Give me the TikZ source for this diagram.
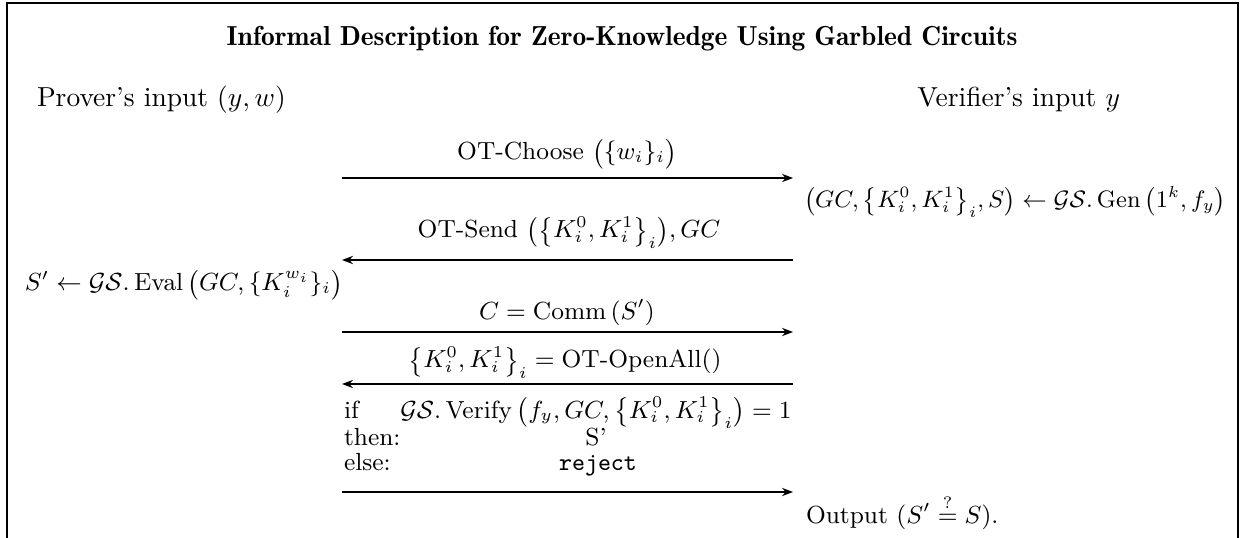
\documentclass[tikz,border=0pt]{standalone}
\usepackage{amsmath,amssymb}
\usetikzlibrary{arrows.meta}
\begin{document}
\begin{tikzpicture}[x=0.36364pt,y=-0.36364pt,
  txt/.style={inner sep=0pt,outer sep=0pt,font=\small},
  party/.style={inner sep=0pt,outer sep=0pt,font=\normalsize},
  msg/.style={line width=0.5pt,-{Stealth[length=4pt,width=3pt]}},
  frame/.style={line width=0.6pt}]
\useasboundingbox (0,0) rectangle (1244,538);
\draw[frame] (7,538) -- (7,3) -- (1238,3) -- (1238,538);
\node[party,anchor=base] (title) at (622,46) {\fontseries{b}\selectfont Informal Description for Zero-Knowledge Using Garbled Circuits};
\node[party,anchor=base west] (prover) at (37,107) {Prover's input $(y,w)$};
\node[party,anchor=base east] (verifier) at (1120,107) {Verifier's input $y$};
% message 1
\coordinate (p1) at (342,178); \coordinate (v1) at (793,178);
\node[txt,anchor=base] (l1) at (567,160) {OT-Choose $\bigl(\{w_i\}_i\bigr)$};
\draw[msg] (p1) -- (v1);
\node[txt,anchor=base west] (gen) at (804,208) {\scalebox{0.96}{$\bigl(GC,\bigl\{K_i^0,K_i^1\bigr\}_i,S\bigr)\leftarrow\mathcal{GS}.\,\mathrm{Gen}\,\bigl(1^k,f_y\bigr)$}};
% message 2
\coordinate (p2) at (342,260); \coordinate (v2) at (793,260);
\node[txt,anchor=base] (l2) at (569,238) {OT-Send $\bigl(\bigl\{K_i^0,K_i^1\bigr\}_i\bigr),GC$};
\draw[msg] (v2) -- (p2);
\node[txt,anchor=base west] (eval) at (25,291) {$S'\leftarrow\mathcal{GS}.\,\mathrm{Eval}\,\bigl(GC,\{K_i^{w_i}\}_i\bigr)$};
% message 3
\coordinate (p3) at (342,332); \coordinate (v3) at (793,332);
\node[txt,anchor=base] (l3) at (567,319) {$C=\mathrm{Comm}\,(S')$};
\draw[msg] (p3) -- (v3);
% message 4
\coordinate (p4) at (342,384); \coordinate (v4) at (793,384);
\node[txt,anchor=base] (l4) at (565,368) {$\bigl\{K_i^0,K_i^1\bigr\}_i=\text{OT-OpenAll}()$};
\draw[msg] (v4) -- (p4);
% if then else
\node[txt,anchor=base west] (if) at (344,418) {if};
\node[txt,anchor=base west] (then) at (344,445) {then:};
\node[txt,anchor=base west] (else) at (344,471) {else:};
\node[txt,anchor=base] (ver) at (596,418) {$\mathcal{GS}.\,\mathrm{Verify}\,\bigl(f_y,GC,\bigl\{K_i^0,K_i^1\bigr\}_i\bigr)=1$};
\node[txt,anchor=base] (sp) at (596,445) {S'};
\node[txt,anchor=base] (rej) at (598,471) {\texttt{reject}};
% message 5
\coordinate (p5) at (342,492); \coordinate (v5) at (793,492);
\draw[msg] (p5) -- (v5);
\node[txt,anchor=base west] (out) at (806,523) {Output $(S'\stackrel{?}{=}S)$.};
\end{tikzpicture}
\end{document}
